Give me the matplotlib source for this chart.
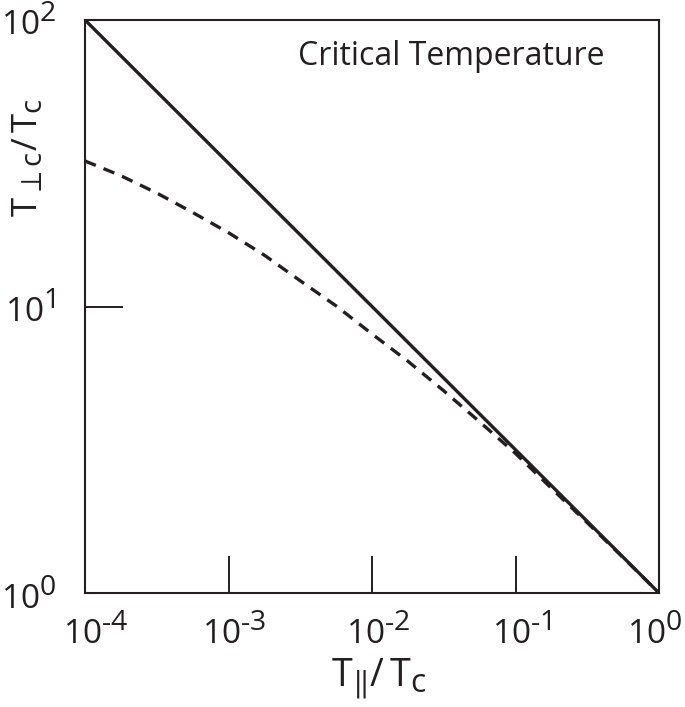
import matplotlib
matplotlib.use("Agg")
import matplotlib.pyplot as plt
import matplotlib.transforms as mtrans
import matplotlib._mathtext as _mt

_mt.SHRINK_FACTOR = 0.85

plt.rcParams['font.family'] = ['Open Sans', 'DejaVu Sans']
plt.rcParams['mathtext.fontset'] = 'custom'
plt.rcParams['mathtext.rm'] = 'Open Sans'
plt.rcParams['mathtext.it'] = 'Open Sans'
plt.rcParams['mathtext.bf'] = 'Open Sans:bold'

INK = '#231f20'

# Data
solid_x = [1e-4, 1.0]
solid_y = [100.0, 1.0]

dashed_x = [1.0e-4, 1.78e-4, 3.16e-4, 5.62e-4, 1.0e-3, 1.78e-3, 3.16e-3, 5.62e-3,
            1.0e-2, 1.78e-2, 3.16e-2, 5.62e-2, 1.0e-1, 1.78e-1, 3.16e-1, 5.62e-1, 1.0]
dashed_y = [32.2, 28.6, 24.9, 21.3, 18.1, 15.1, 12.3, 10.05,
            8.02, 6.44, 5.08, 3.96, 3.07, 2.32, 1.76, 1.33, 1.0]

x_ticks = [1e-4, 1e-3, 1e-2, 1e-1, 1e0]
x_ticklabels = ['$\\mathregular{10^{\u20104}}$', '$\\mathregular{10^{\u20103}}$',
                '$\\mathregular{10^{\u20102}}$', '$\\mathregular{10^{\u20101}}$',
                '$\\mathregular{10^{0}}$']
y_ticks = [1e0, 1e1, 1e2]
y_ticklabels = [r'$\mathregular{10^{0}}$', r'$\mathregular{10^{1}}$', r'$\mathregular{10^{2}}$']

fig = plt.figure(figsize=(6.85, 7.07), dpi=100)
ax = fig.add_axes([85/685, (707-593)/707, (659-85)/685, (593-20)/707])

ax.plot(solid_x, solid_y, color=INK, lw=2.4, solid_capstyle='butt')
ax.plot(dashed_x, dashed_y, color=INK, lw=2.4, dashes=(3.5, 2.5))

ax.set_xscale('log')
ax.set_yscale('log')
ax.set_xlim(1e-4, 1)
ax.set_ylim(1, 100)
ax.minorticks_off()
ax.set_xticks(x_ticks)
ax.set_xticklabels(x_ticklabels)
ax.set_yticks(y_ticks)
ax.set_yticklabels(y_ticklabels)
ax.tick_params(which='major', direction='in', length=27, width=1.4, colors=INK,
               labelsize=24, labelcolor=INK)
ax.tick_params(axis='x', pad=15)
ax.tick_params(axis='y', pad=21)
for s in ax.spines.values():
    s.set_linewidth(1.5)
    s.set_color(INK)

# small horizontal nudges of the x tick labels (as in the reference)
shifts_px = [11, 6, 6, 6, -4]
for lab, dx in zip(ax.get_xticklabels(), shifts_px):
    lab.set_transform(lab.get_transform() +
                      mtrans.ScaledTranslation(dx / 100, 0, fig.dpi_scale_trans))

ax.set_xlabel(r'$\mathregular{T_{\Vert}/\,T_c}$', fontsize=27, color=INK, labelpad=4)
ax.xaxis.label.set_x(0.512)
ax.set_ylabel(r'$\mathregular{T_{\perp c}/\,T_c}$', fontsize=25, color=INK)
ax.yaxis.set_label_coords(-0.07, 0.76)

ax.text(0.6385, 0.937, 'Critical Temperature', transform=ax.transAxes,
        ha='center', va='center', fontsize=23, color=INK)

fig.savefig('out.png', dpi=100)
